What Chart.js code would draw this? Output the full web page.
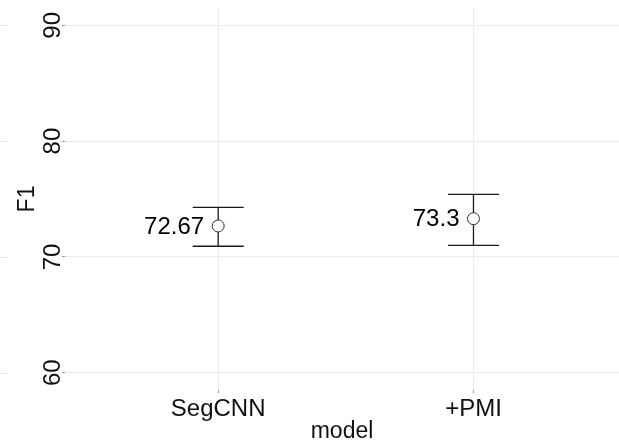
<!DOCTYPE html>
<html>
<head>
<meta charset="utf-8">
<script src="https://cdn.jsdelivr.net/npm/chart.js@4/dist/chart.umd.min.js"></script>
<style>
  html, body { margin: 0; padding: 0; background: #ffffff; overflow: hidden; }
  #wrap { width: 619px; height: 441px; position: relative; }
</style>
</head>
<body>
<div id="wrap"><canvas id="c"></canvas></div>
<script>
// ---- data ----
const categories = ['SegCNN', '+PMI'];
const means = [72.67, 73.3];
const lower = [70.92, 71.0];
const upper = [74.28, 75.4];
const pointLabels = ['72.67', '73.3'];
const yTicks = [60, 70, 80, 90];

const FONT = "'Liberation Sans', Arial, Helvetica, sans-serif";

const points = categories.map((c, i) => ({ x: i + 1, y: means[i] }));

const errorBarPlugin = {
  id: 'errorBars',
  beforeDatasetsDraw(chart) {
    const { ctx, scales: { x, y } } = chart;
    ctx.save();
    // small gridline fragments at far left (cropped neighbour panel)
    ctx.strokeStyle = '#e6e6e6';
    ctx.lineWidth = 1;
    yTicks.forEach(v => {
      const py = Math.round(y.getPixelForValue(v)) + 0.5;
      ctx.beginPath(); ctx.moveTo(0, py); ctx.lineTo(8, py); ctx.stroke();
    });
    ctx.strokeStyle = '#1a1a1a';
    ctx.lineWidth = 1.3;
    categories.forEach((c, i) => {
      const cx = x.getPixelForValue(i + 1);
      const l = x.getPixelForValue(i + 1 - 0.1);
      const r = x.getPixelForValue(i + 1 + 0.1);
      const yt = y.getPixelForValue(upper[i]);
      const yb = y.getPixelForValue(lower[i]);
      ctx.beginPath();
      ctx.moveTo(cx, yt); ctx.lineTo(cx, yb);
      ctx.moveTo(l, yt); ctx.lineTo(r, yt);
      ctx.moveTo(l, yb); ctx.lineTo(r, yb);
      ctx.stroke();
    });
    ctx.restore();
  },
  afterDatasetsDraw(chart) {
    const { ctx, scales: { x, y } } = chart;
    ctx.save();
    ctx.fillStyle = '#000000';
    ctx.font = '24px ' + FONT;
    ctx.textAlign = 'right';
    ctx.textBaseline = 'middle';
    categories.forEach((c, i) => {
      const px = x.getPixelForValue(i + 1) - 14;
      const py = y.getPixelForValue(means[i]);
      ctx.fillText(pointLabels[i], px, py + 1);
    });
    ctx.restore();
  }
};

function noPad(scale) {
  scale.paddingTop = 0; scale.paddingBottom = 0;
  scale.paddingLeft = 0; scale.paddingRight = 0;
}

new Chart(document.getElementById('c'), {
  type: 'scatter',
  data: {
    datasets: [{
      data: points,
      pointRadius: 6,
      pointHoverRadius: 6,
      pointBackgroundColor: '#ffffff',
      pointBorderColor: '#333333',
      pointBorderWidth: 1,
      showLine: false
    }]
  },
  options: {
    responsive: true,
    maintainAspectRatio: false,
    animation: false,
    events: [],
    layout: { autoPadding: false, padding: { top: 8, right: 0, bottom: 0, left: 0 } },
    plugins: { legend: { display: false }, tooltip: { enabled: false } },
    scales: {
      x: {
        type: 'linear',
        min: 0.4,
        max: 2.57,
        afterBuildTicks(scale) { scale.ticks = categories.map((c, i) => ({ value: i + 1 })); },
        afterFit(scale) { scale.height = 51; noPad(scale); },
        border: { display: false },
        grid: { color: '#ebebeb', tickColor: '#9a9a9a', tickLength: 3, lineWidth: 1 },
        ticks: {
          autoSkip: false,
          maxRotation: 0,
          padding: 2,
          color: '#111111',
          font: { family: FONT, size: 24 },
          callback: (v) => categories[Math.round(v) - 1] ?? ''
        },
        title: {
          display: true,
          text: 'model',
          color: '#111111',
          font: { family: FONT, size: 23, lineHeight: 0.8 },
          padding: { top: 0, bottom: 0 }
        }
      },
      y: {
        type: 'linear',
        min: 58.5,
        max: 91.5,
        afterBuildTicks(scale) { scale.ticks = yTicks.map(v => ({ value: v })); },
        afterFit(scale) { scale.width = 65; noPad(scale); },
        border: { display: false },
        grid: { color: '#ebebeb', tickColor: '#9a9a9a', tickLength: 3, lineWidth: 1 },
        ticks: {
          minRotation: 90,
          maxRotation: 90,
          crossAlign: 'center',
          padding: -5,
          color: '#111111',
          font: { family: FONT, size: 24 },
          callback: (v) => String(v)
        },
        title: {
          display: true,
          text: 'F1',
          color: '#111111',
          font: { family: FONT, size: 23, lineHeight: 1 },
          padding: { top: 16, bottom: 0 }
        }
      }
    }
  },
  plugins: [errorBarPlugin]
});
</script>
</body>
</html>
